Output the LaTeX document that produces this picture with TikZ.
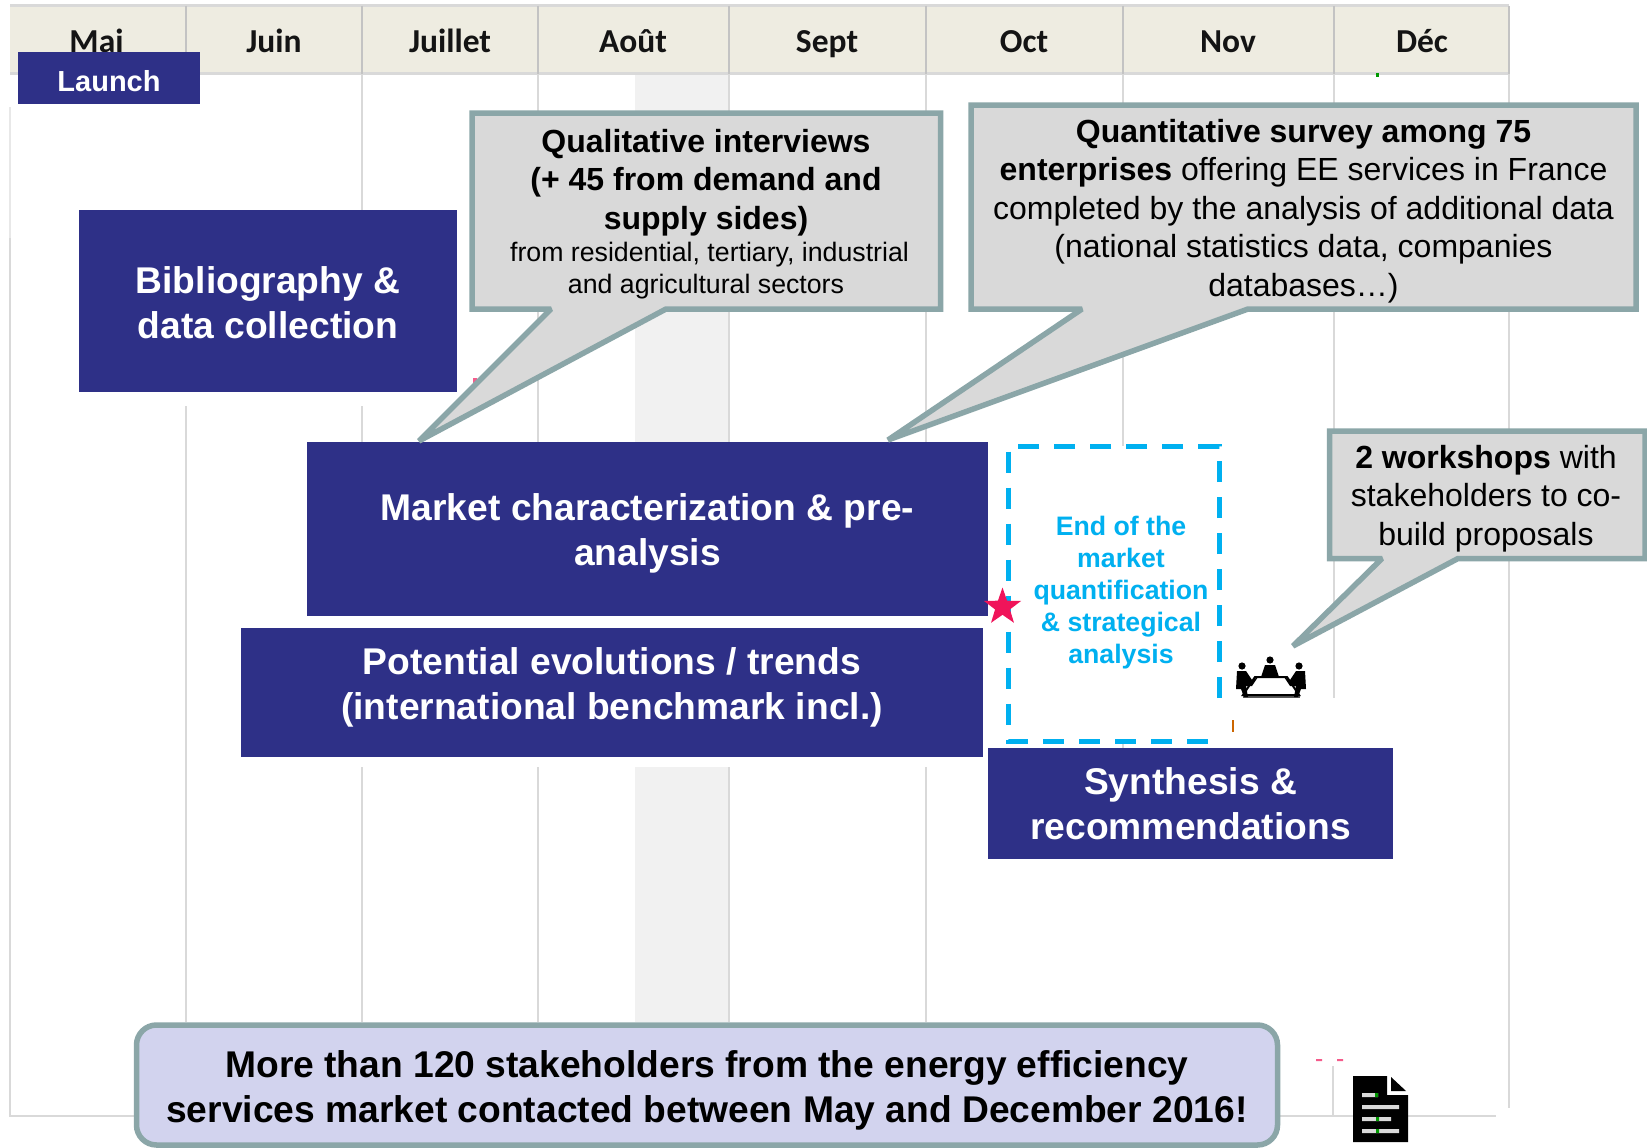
\documentclass[tikz,border=0pt]{standalone}
\usepackage{fontspec}
\setmainfont{Liberation Sans}
\newfontfamily\hdrfont{Carlito}
\usetikzlibrary{shapes.geometric}
\definecolor{navy}{HTML}{2E3087}
\definecolor{hdr}{HTML}{EEECE1}
\definecolor{gridc}{HTML}{D9D9D9}
\definecolor{calloutb}{HTML}{8BA6A8}
\definecolor{calloutf}{HTML}{D9D9D9}
\definecolor{cyanb}{HTML}{00B0F0}
\definecolor{lilac}{HTML}{D2D3EE}
\definecolor{augustfill}{HTML}{F1F1F1}
\definecolor{pinkstar}{HTML}{F0145A}
\newcommand{\lift}[2]{\raisebox{#1}[0pt][0pt]{\begin{tabular}[c]{@{}c@{}}#2\end{tabular}}}
\tikzset{
  gline/.style={draw=gridc,line width=2.5pt},
  month/.style={font=\hdrfont\bfseries\fontsize{33.5}{38}\selectfont,inner sep=0pt,text=black!92,anchor=base},
  navybox/.style={fill=navy,text=white,inner sep=0pt,font=\bfseries\fontsize{37.2}{45}\selectfont},
  callout/.style={fill=calloutf,draw=calloutb,line width=5.5pt,line join=miter,miter limit=2},
  ctext/.style={inner sep=0pt,align=center,text=black,font=\fontsize{32}{38.5}\selectfont},
}
\begin{document}
\begin{tikzpicture}[x=1pt,y=-1pt]
\useasboundingbox (0,0) rectangle (1647,1148);
\fill[white] (0,0) rectangle (1647,1148);
% August shading
\fill[augustfill] (635,74) rectangle (729,442);
\fill[augustfill] (635,767) rectangle (729,1022);
% grid lines
\draw[gridc!60,line width=2.5pt] (10,107) -- (10,238);
\draw[gline] (10,238) -- (10,1116) -- (1496,1116);
\draw[gline] (186,406) -- (186,1022);
\draw[gline] (362,74) -- (362,210) (362,406) -- (362,442) (362,767) -- (362,1022);
\draw[gline] (538,74) -- (538,442) (538,767) -- (538,1022);
\draw[gline] (729,74) -- (729,442) (729,767) -- (729,1022);
\draw[gline] (926,74) -- (926,442) (926,767) -- (926,1022);
\draw[gline] (1123,74) -- (1123,446) (1123,741) -- (1123,748);
\draw[gline] (1334,74) -- (1334,698) (1334,748) -- (1334,760) (1333,1066) -- (1333,1116);
\draw[gline] (1509,74) -- (1509,1108);
% header
\fill[hdr] (10,6) rectangle (1509,74);
\draw[gridc,line width=3pt] (10,6) -- (1509,6) (10,74) -- (1509,74);
\foreach \hx in {186,362,538,729,926,1123,1334,1509} \draw[gridc!90!black,line width=1.5pt] (\hx,6) -- (\hx,74);
\node[month] (mai) at (96.5,53) {Mai};
\node[month] (juin) at (274,53) {Juin};
\node[month] (juil) at (450,53) {Juillet};
\node[month] (aout) at (633,53) {Août};
\node[month] (sept) at (827,53) {Sept};
\node[month] (oct) at (1024,53) {Oct};
\node[month] (nov) at (1228,53) {Nov};
\node[month] (dec) at (1422,53) {Déc};
\fill[green!60!black] (1376,73) rectangle (1379,77);
% stray marks
\fill[pinkstar!70] (473,378) rectangle (477,384) (490,398) rectangle (494,404) (1316,1059) rectangle (1322,1061) (1337,1059) rectangle (1343,1061);
\fill[orange!80!black] (1232,720) rectangle (1234,732);
% blue boxes
\node[navybox,minimum width=182,minimum height=52,font=\bfseries\fontsize{29}{34}\selectfont] (launch) at (109,78) {\lift{-12.5pt}{Launch}};
\node[navybox,minimum width=378,minimum height=182] (bib) at (268,301) {\lift{-12.5pt}{Bibliography \&\\data collection}};
\node[navybox,minimum width=681,minimum height=174] (market) at (647.5,529) {\lift{-11pt}{Market characterization \& pre-\\analysis}};
\node[navybox,minimum width=742,minimum height=129] (potential) at (612,692.5) {\lift{-2pt}{Potential evolutions / trends\\(international benchmark incl.)}};
% dashed frame
\draw[cyanb,line width=5pt,dash pattern=on 21pt off 15pt] (1219,698) -- (1219,446) -- (1008.5,446) -- (1008.5,741) -- (1215,741);
\node[inner sep=0pt,align=center,text=cyanb,font=\bfseries\fontsize{26.7}{32}\selectfont] (endq) at (1121,593) {End of the\\market\\quantification\\\& strategical\\analysis};
\node[navybox,minimum width=405,minimum height=111] (synth) at (1190.5,803.5) {\lift{-11pt}{Synthesis \&\\recommendations}};
% star
\node[star,star points=5,star point ratio=2.5,minimum size=39pt,inner sep=0pt,fill=pinkstar] (milestone) at (1002.5,607) {};
% callouts
\filldraw[callout] (472,113) -- (940.5,113) -- (940.5,309) -- (666,309) -- (419,441) -- (551,309) -- (472,309) -- cycle;
\node[ctext] (qual) at (706,214) {\bfseries Qualitative interviews\\\bfseries (+ 45 from demand and\\\bfseries supply sides)\\[-6.2pt]\fontsize{26.7}{32}\selectfont\hspace*{7pt}from residential, tertiary, industrial\\[-6.3pt]\fontsize{26.7}{32}\selectfont and agricultural sectors};
\filldraw[callout] (971,105) -- (1636,105) -- (1636,309) -- (1248,309) -- (888,440) -- (1082,309) -- (971,309) -- cycle;
\node[ctext] (quant) at (1303.5,211) {\textbf{Quantitative survey among 75}\\\textbf{enterprises} offering EE services in France\\completed by the analysis of additional data\\(national statistics data, companies\\databases…)};
\filldraw[callout] (1329.5,431) -- (1645,431) -- (1645,558.5) -- (1458,558.5) -- (1293,646) -- (1382,558.5) -- (1329.5,558.5) -- cycle;
\node[ctext] (work) at (1486,498.5) {\textbf{2 workshops} with\\stakeholders to co-\\build proposals};
% workshop icon
\fill[black!65] (1243,694) rectangle (1300,698);
\draw[black,line width=2pt,fill=white] (1255,677) -- (1287,677) -- (1299,695) -- (1243,695) -- cycle;
\fill[black] (1242,666) circle (3.6) (1270,660) circle (3.6) (1299,666) circle (3.6);
\fill[black] (1261,677) -- (1265,665) -- (1275,665) -- (1279,677) -- cycle;
\fill[black] (1237,671) -- (1246,671) -- (1252,680) -- (1258,677) -- (1252,686) -- (1246,686) -- (1248,697) -- (1244,697) -- (1241,689) -- (1236,689) -- cycle;
\fill[black] (1305,671) -- (1296,671) -- (1290,680) -- (1284,677) -- (1290,686) -- (1296,686) -- (1294,697) -- (1298,697) -- (1301,689) -- (1306,689) -- cycle;
% bottom banner
\node[draw=calloutb,fill=lilac,line width=5.5pt,rounded corners=20pt,minimum width=1141,minimum height=120,inner sep=0pt,font=\bfseries\fontsize{37.2}{45}\selectfont] (banner) at (707,1085) {\lift{-12.5pt}{More than 120 stakeholders from the energy efficiency\\services market contacted between May and December 2016!}};
% document icon
\fill[black] (1353,1076) -- (1387,1076) -- (1387,1095) -- (1408,1095) -- (1408,1142) -- (1353,1142) -- cycle;
\fill[black] (1391,1077) -- (1406,1091) -- (1391,1091) -- cycle;
\fill[gridc] (1362,1093) rectangle (1378,1097) (1362,1105) rectangle (1399,1109) (1362,1117) rectangle (1391,1121) (1362,1129) rectangle (1399,1133);
\fill[green!60!black] (1375,1093) rectangle (1378,1097) (1376,1117) rectangle (1379,1121) (1376,1129) rectangle (1379,1133);
\end{tikzpicture}
\end{document}
